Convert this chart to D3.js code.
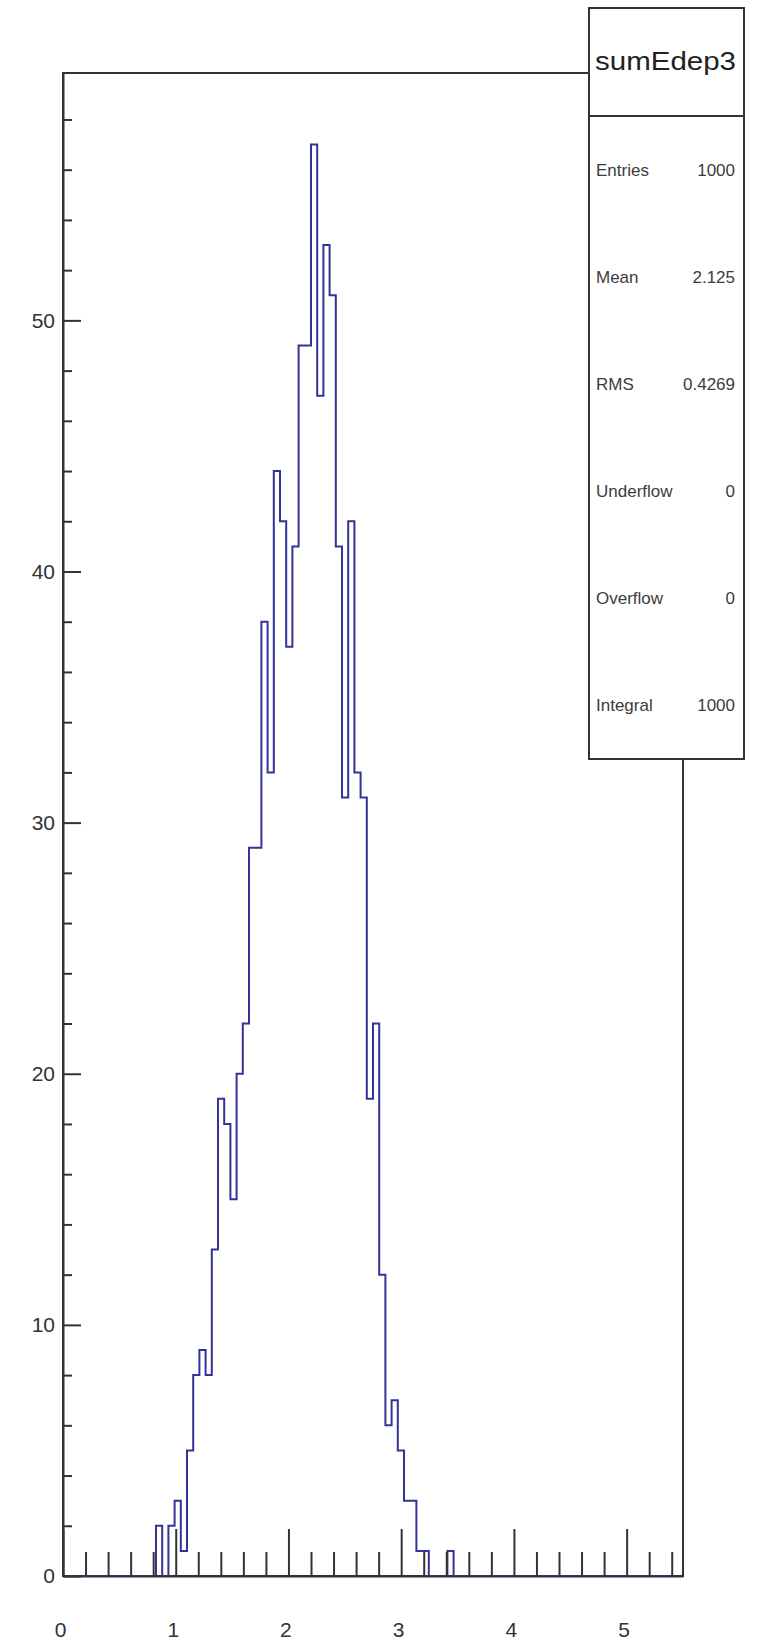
<!DOCTYPE html>
<html>
<head>
<meta charset="utf-8">
<script src="https://cdn.jsdelivr.net/npm/d3@7"></script>
<style>
  html, body { margin: 0; padding: 0; background: #ffffff; }
  svg { display: block; }
  text { font-family: "Liberation Sans", Arial, Helvetica, sans-serif; }
</style>
</head>
<body>
<svg id="chart" width="760" height="1648"></svg>
<script>
// ---- histogram definition: 100 equal bins on [0, 5.5] ----
const histName = "sumEdep3";
const xRange = [0, 5.5];
const nBins = 100;

// bin contents, first bin to last bin
const counts = [
   0,  0,  0,  0,  0,  0,  0,  0,  0,  0,   0,  0,  0,  0,  0,  2,  0,  2,  3,  1,
   5,  8,  9,  8, 13, 19, 18, 15, 20, 22,  29, 29, 38, 32, 44, 42, 37, 41, 49, 49,
  57, 47, 53, 51, 41, 31, 42, 32, 31, 19,  22, 12,  6,  7,  5,  3,  3,  1,  1,  0,
   0,  0,  1,  0,  0,  0,  0,  0,  0,  0,   0,  0,  0,  0,  0,  0,  0,  0,  0,  0,
   0,  0,  0,  0,  0,  0,  0,  0,  0,  0,   0,  0,  0,  0,  0,  0,  0,  0,  0,  0
];

// axis ticks
const xMajorTicks = [0, 1, 2, 3, 4, 5];
const xTickLabels = ["0", "1", "2", "3", "4", "5"];
const yMajorTicks = [0, 10, 20, 30, 40, 50];
const yTickLabels = ["0", "10", "20", "30", "40", "50"];

// statistics box
const statNames  = ["Entries", "Mean", "RMS", "Underflow", "Overflow", "Integral"];
const statValues = ["1000", "2.125", "0.4269", "0", "0", "1000"];

// ---- layout ----
const frame = { left: 63, right: 683, top: 73, bottom: 1576 };
const lineColor = "#333333";
const histColor = "#333399";

const svg = d3.select("#chart");

const x = d3.scaleLinear().domain(xRange).range([frame.left, frame.right]);
const yMax = d3.max(counts) * 1.05;
const y = d3.scaleLinear().domain([0, yMax]).range([frame.bottom, frame.top]);

// frame
svg.append("rect")
  .attr("x", frame.left).attr("y", frame.top)
  .attr("width", frame.right - frame.left)
  .attr("height", frame.bottom - frame.top)
  .attr("fill", "none")
  .attr("stroke", lineColor)
  .attr("stroke-width", 2);

// histogram outline (step line over every bin)
const binWidth = (xRange[1] - xRange[0]) / nBins;
const outline = [[xRange[0], 0]];
counts.forEach((c, i) => {
  outline.push([xRange[0] + i * binWidth, c]);
  outline.push([xRange[0] + (i + 1) * binWidth, c]);
});
outline.push([xRange[1], 0]);

svg.append("path")
  .attr("d", d3.line().x(d => x(d[0])).y(d => y(d[1]))(outline))
  .attr("fill", "none")
  .attr("stroke", histColor)
  .attr("stroke-width", 2)
  .attr("stroke-linejoin", "miter");

// ---- x axis: major ticks with labels, minor ticks every 0.2 ----
const xMinorTicks = d3.range(0, 28)
  .map(i => +(i * 0.2).toFixed(1))
  .filter(v => !xMajorTicks.includes(v));

const gx = svg.append("g").attr("transform", `translate(0,${frame.bottom})`);
gx.call(d3.axisBottom(x)
  .tickValues(xMajorTicks)
  .tickFormat((d, i) => xTickLabels[i])
  .tickSizeInner(-47)
  .tickSizeOuter(0)
  .tickPadding(46));
gx.selectAll(".tick text").attr("dx", -3);
gx.append("g")
  .call(d3.axisBottom(x).tickValues(xMinorTicks).tickFormat("").tickSizeInner(-24).tickSizeOuter(0))
  .call(g => g.select(".domain").remove());

// ---- y axis: major ticks every 10, minor every 2 ----
const yMinorTicks = d3.range(0, 60, 2).filter(v => !yMajorTicks.includes(v));

const gy = svg.append("g").attr("transform", `translate(${frame.left},0)`);
gy.call(d3.axisLeft(y)
  .tickValues(yMajorTicks)
  .tickFormat((d, i) => yTickLabels[i])
  .tickSizeInner(-18)
  .tickSizeOuter(0)
  .tickPadding(8));
gy.append("g")
  .call(d3.axisLeft(y).tickValues(yMinorTicks).tickFormat("").tickSizeInner(-9).tickSizeOuter(0))
  .call(g => g.select(".domain").remove());

[gx, gy].forEach(g => {
  g.attr("font-family", "'Liberation Sans', Arial, sans-serif").attr("font-size", 21);
  g.selectAll(".domain").attr("stroke", lineColor).attr("stroke-width", 2);
  g.selectAll(".tick line").attr("stroke", lineColor).attr("stroke-width", 2);
  g.selectAll(".tick text").attr("fill", "#333333");
});

// ---- statistics box ----
const box = { x0: 589, x1: 744, y0: 8, y1: 759, titleBottom: 116 };
const gs = svg.append("g");
gs.append("rect")
  .attr("x", box.x0).attr("y", box.y0)
  .attr("width", box.x1 - box.x0).attr("height", box.y1 - box.y0)
  .attr("fill", "#ffffff")
  .attr("stroke", lineColor)
  .attr("stroke-width", 2);
gs.append("line")
  .attr("x1", box.x0).attr("x2", box.x1)
  .attr("y1", box.titleBottom).attr("y2", box.titleBottom)
  .attr("stroke", lineColor).attr("stroke-width", 2);
gs.append("text")
  .attr("x", (box.x0 + box.x1) / 2 - 1)
  .attr("y", 70)
  .attr("text-anchor", "middle")
  .attr("font-size", 25)
  .attr("textLength", 141)
  .attr("lengthAdjust", "spacingAndGlyphs")
  .attr("fill", "#222222")
  .text(histName);

const rowH = (box.y1 - box.titleBottom) / statNames.length;
statNames.forEach((name, i) => {
  const cy = box.titleBottom + rowH * (i + 0.5);
  gs.append("text")
    .attr("x", box.x0 + 7).attr("y", cy + 6)
    .attr("font-size", 17).attr("fill", "#3c3c3c")
    .text(name);
  gs.append("text")
    .attr("x", box.x1 - 9).attr("y", cy + 6)
    .attr("text-anchor", "end")
    .attr("font-size", 17).attr("fill", "#3c3c3c")
    .text(statValues[i]);
});
</script>
</body>
</html>
